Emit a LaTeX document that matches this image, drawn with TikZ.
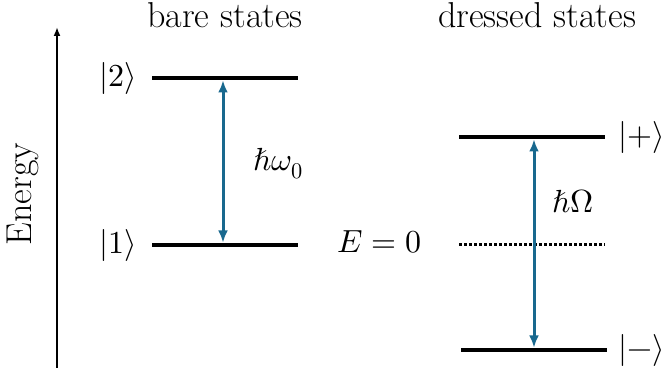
\documentclass[tikz,border=0pt]{standalone}
\usepackage{unicode-math}
\setmathfont{Latin Modern Math}
\usetikzlibrary{arrows.meta}
\definecolor{trans}{RGB}{24,104,142}
\begin{document}
\begin{tikzpicture}[x=0.5pt,y=-0.5pt,
  level/.style={line width=2.3pt},
  zerolevel/.style={line width=1.5pt, dash pattern=on 1.5pt off 1pt},
  trarrow/.style={trans, line width=1.5pt, {Latex[length=6pt,width=5pt]}-{Latex[length=6pt,width=5pt]}},
  axis/.style={line width=0.9pt, -{Latex[length=4.5pt,width=3.5pt]}},
  lbl/.style={font=\fontsize{16}{19}\selectfont, inner sep=0pt},
  ttl/.style={font=\fontsize{18}{21}\selectfont, inner sep=0pt},
]
\useasboundingbox (0,0) rectangle (665,373);
% energy axis
\coordinate (ax0) at (57,368);
\coordinate (ax1) at (57,27);
\draw[axis] (ax0) -- (ax1);
\node[ttl, rotate=90] (energy) at (23,194) {Energy};
% titles
\node[ttl, anchor=base] (bare) at (225,28) {bare states};
\node[ttl, anchor=base] (dressed) at (537,28) {dressed states};
% bare levels
\coordinate (b2l) at (152,78);  \coordinate (b2r) at (298,78);
\coordinate (b1l) at (152,245); \coordinate (b1r) at (298,245);
\draw[level] (b2l) -- (b2r);
\draw[level] (b1l) -- (b1r);
\node[lbl] (k2) at (118,79) {$|2\rangle$};
\node[lbl] (k1) at (118,246) {$|1\rangle$};
\coordinate (a2) at (223,80.5);
\coordinate (a1) at (223,242.5);
\draw[trarrow] (a2) -- (a1);
\node[lbl, anchor=base west] (w0) at (253,171) {$ℏ\omega_0$};
% dressed levels
\coordinate (dpl) at (459,137); \coordinate (dpr) at (605,137);
\coordinate (dml) at (461,350); \coordinate (dmr) at (607,350);
\coordinate (d0l) at (459,245); \coordinate (d0r) at (605,245);
\draw[level] (dpl) -- (dpr);
\draw[level] (dml) -- (dmr);
\draw[zerolevel] (d0l) -- (d0r);
\node[lbl] (kp) at (642,138) {$|{+}\rangle$};
\node[lbl] (km) at (642,351) {$|{-}\rangle$};
\node[lbl, anchor=base west] (e0) at (337,253) {$E=0$};
\coordinate (ap) at (534,139.5);
\coordinate (am) at (534,347.5);
\draw[trarrow] (ap) -- (am);
\node[lbl, anchor=base west] (om) at (552,213) {$ℏ\Omega$};
\end{tikzpicture}
\end{document}
